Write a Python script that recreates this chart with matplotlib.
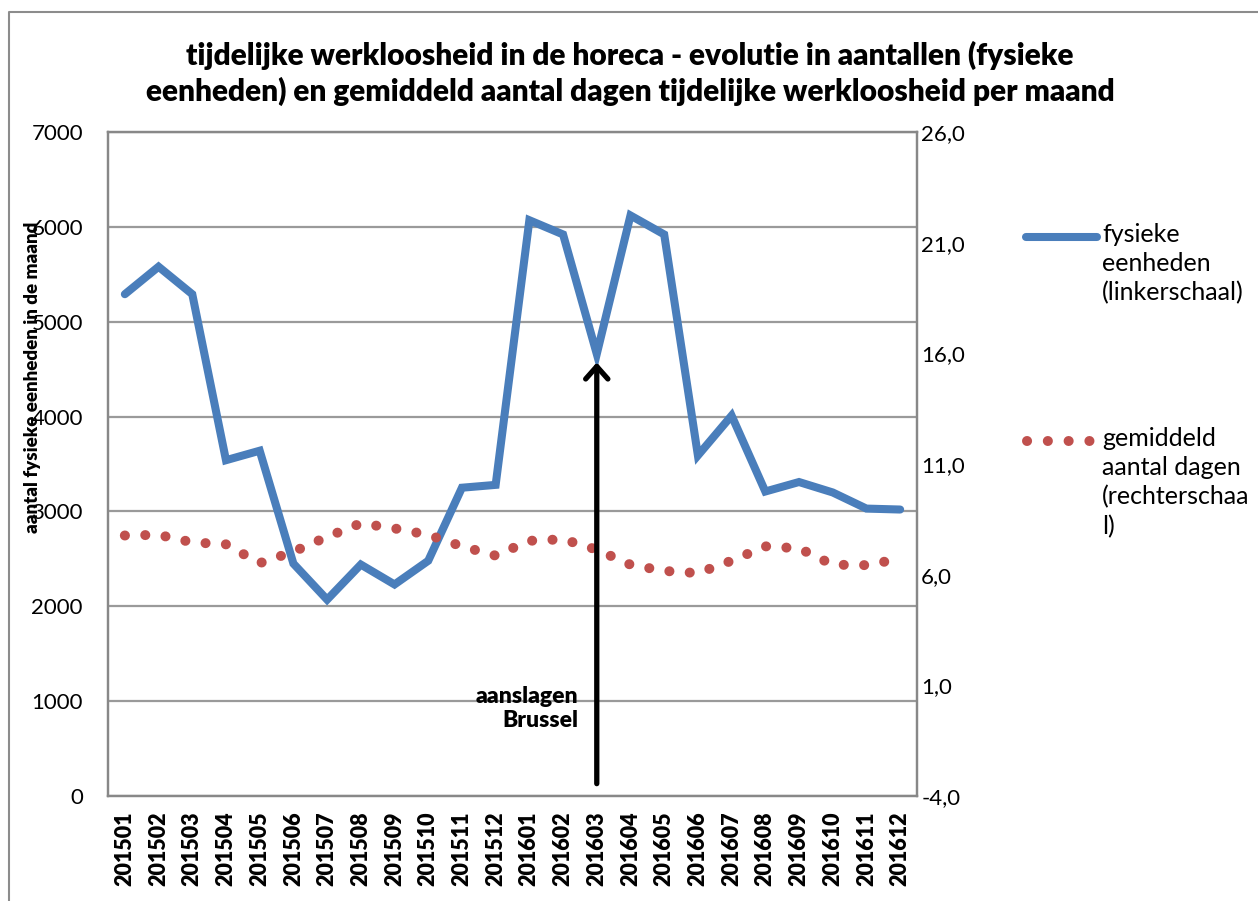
import numpy as np
import matplotlib.pyplot as plt
from matplotlib.lines import Line2D

plt.rcParams['font.family'] = ['Lato', 'DejaVu Sans']

# gegevens per maand
maanden = ["201501", "201502", "201503", "201504", "201505", "201506",
           "201507", "201508", "201509", "201510", "201511", "201512",
           "201601", "201602", "201603", "201604", "201605", "201606",
           "201607", "201608", "201609", "201610", "201611", "201612"]
fysieke_eenheden = [5290, 5580, 5290, 3540, 3640, 2450, 2070, 2440, 2230, 2480, 3250, 3280,
                    6070, 5920, 4660, 6120, 5920, 3590, 4010, 3210, 3310, 3200, 3030, 3020]
gemiddeld_dagen = [7.77, 7.80, 7.46, 7.37, 6.52, 7.04, 7.71, 8.32, 8.09, 7.80, 7.28, 6.86,
                   7.53, 7.60, 7.13, 6.45, 6.17, 6.07, 6.63, 7.28, 7.19, 6.45, 6.43, 6.72]
links_ticks = [0, 1000, 2000, 3000, 4000, 5000, 6000, 7000]
rechts_ticks = [-4.0, 1.0, 6.0, 11.0, 16.0, 21.0, 26.0]

blauw = "#4a7ebb"
rood = "#c0504d"
grijs = "#888888"

W, H = 1258, 901
fig = plt.figure(figsize=(W / 100, H / 100), dpi=100)
ax = fig.add_axes([108 / W, 1 - 796 / H, (917 - 108) / W, (796 - 132) / H])
ax2 = ax.twinx()

x = np.arange(len(maanden))

lw_b = 5.8
lw_r = 7.2
ax.plot(x, fysieke_eenheden, color=blauw, lw=lw_b, solid_joinstyle="miter",
        solid_capstyle="round", zorder=3)
ax2.plot(x, gemiddeld_dagen, color=rood, lw=lw_r, linestyle=(0, (0.01, 14.6 / lw_r)),
         dash_capstyle="round", zorder=3)

ax.set_xlim(-0.5, len(maanden) - 0.5)
ax.set_ylim(0, 7000)
ax.set_yticks(links_ticks)
ax2.set_ylim(-4, 26)
ax2.set_yticks(rechts_ticks)
ax2.set_yticklabels([("%.1f" % v).replace(".", ",") for v in rechts_ticks])

ax.set_xticks(x)
ax.set_xticklabels(maanden, rotation=90, fontweight="heavy", fontsize=15.5)
ax.tick_params(axis="x", length=0, pad=11)
ax.tick_params(axis="y", length=0, pad=18, labelsize=16)
ax2.tick_params(axis="y", length=0, pad=3, labelsize=16)

ax.grid(axis="y", color="#9a9a9a", lw=1.6)
ax.set_axisbelow(True)
for a in (ax, ax2):
    for s in a.spines.values():
        s.set_color(grijs)
        s.set_linewidth(1.6)

# pijl aanslagen Brussel
ax2.annotate("", xy=(14, fysieke_eenheden[14] - 90), xytext=(14, 130),
             xycoords=ax.transData, textcoords=ax.transData,
             arrowprops=dict(arrowstyle="->, head_length=0.45, head_width=0.4",
                             lw=3.8, color="black", mutation_scale=20,
                             shrinkA=0, shrinkB=0), zorder=5)
ax.text(13.45, 925, "aanslagen\nBrussel", ha="right", va="center", multialignment="right",
        fontweight="heavy", fontsize=16.5, linespacing=1.2)

# titel en aslabel
fig.text(630 / W, 1 - 73.5 / H,
         "tijdelijke werkloosheid in de horeca - evolutie in aantallen (fysieke\n"
         "eenheden) en gemiddeld aantal dagen tijdelijke werkloosheid per maand",
         ha="center", va="center", fontweight="heavy", fontsize=21.5, linespacing=1.3)
fig.text(33 / W, 1 - 377 / H, "aantal fysieke eenheden in de maand", rotation=90,
         ha="center", va="center", fontweight="heavy", fontsize=13.5)

# legenda
fig.add_artist(Line2D([1026 / W, 1097 / W], [1 - 237 / H] * 2, color=blauw, lw=lw_b,
                      solid_capstyle="round"))
fig.text(1102 / W, 1 - 223 / H, "fysieke\neenheden\n(linkerschaal)", ha="left", va="top",
         fontsize=18, linespacing=1.32)
fig.add_artist(Line2D([1027 / W, 1091 / W], [1 - 441 / H] * 2, color=rood, lw=lw_r,
                      linestyle=(0, (0.01, 14.9 / lw_r)), dash_capstyle="round"))
fig.text(1102 / W, 1 - 427 / H, "gemiddeld\naantal dagen\n(rechterschaa\nl)", ha="left",
         va="top", fontsize=18, linespacing=1.32)

# rand grafiekgebied
fig.add_artist(Line2D([9 / W, 9 / W, 1], [0, 1 - 12 / H, 1 - 12 / H], color="#8c8c8c", lw=1.5))

fig.savefig("out.png", dpi=100)
